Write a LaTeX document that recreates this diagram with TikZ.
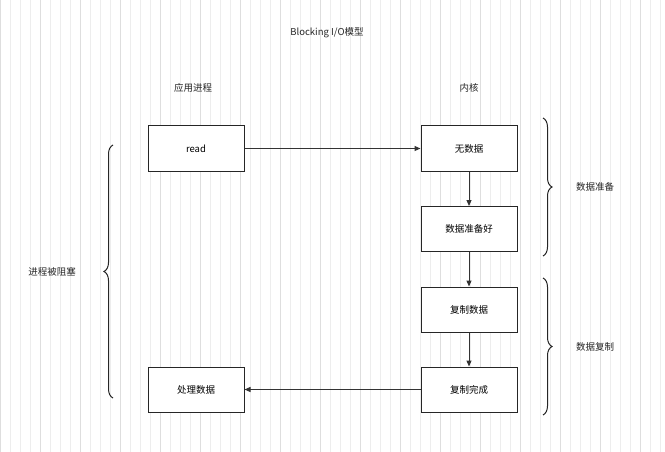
\documentclass[tikz,border=0pt]{standalone}
\usepackage{fontspec}
\setmainfont{Noto Sans CJK SC}
\usetikzlibrary{decorations.pathreplacing,arrows.meta}
\begin{document}
\begin{tikzpicture}[x=1pt,y=-1pt,
  box/.style={draw=black!85,line width=1pt,fill=white,minimum width=96pt,minimum height=45pt,font=\fontsize{9.5}{11}\selectfont},
  lbl/.style={font=\fontsize{9.5}{11}\selectfont,text=black!85},
  arr/.style={draw=black!80,line width=1pt,-{Triangle[length=6pt,width=5pt]}},
  br/.style={draw=black!85,line width=1pt,decorate,decoration={brace,amplitude=9pt}}]
\useasboundingbox (0,0) rectangle (665,452);
\fill[white] (0,0) rectangle (665,452);
\draw[black!7,line width=0.5pt] (0,0) grid[step=10] (665,452);
\draw[black!13,line width=0.5pt] (0,0) grid[step=40] (665,452);
\node[lbl] (title) at (327,33) {Blocking I/O模型};
\node[lbl] (app) at (193,88) {应用进程};
\node[lbl] (kern) at (469,88) {内核};
\node[box] (read) at (196,148.5) {read};
\node[box] (nd) at (469,148.5) {无数据};
\node[box] (ready) at (469,229) {数据准备好};
\node[box] (cp) at (469,309.5) {复制数据};
\node[box] (done) at (469,389.5) {复制完成};
\node[box] (proc) at (196,389.5) {处理数据};
\draw[arr] (read) -- (nd);
\draw[arr] (nd) -- (ready);
\draw[arr] (ready) -- (cp);
\draw[arr] (cp) -- (done);
\draw[arr] (done) -- (proc);
\coordinate (lb1) at (113,398); \coordinate (lb2) at (113,145);
\draw[br] (lb1) -- (lb2);
\node[lbl] (blk) at (52,272) {进程被阻塞};
\coordinate (r1a) at (543,118); \coordinate (r1b) at (543,256);
\draw[br] (r1a) -- (r1b);
\node[lbl] (prep) at (595,187) {数据准备};
\coordinate (r2a) at (543,278); \coordinate (r2b) at (543,415);
\draw[br] (r2a) -- (r2b);
\node[lbl] (copy) at (595,347) {数据复制};
\end{tikzpicture}
\end{document}
